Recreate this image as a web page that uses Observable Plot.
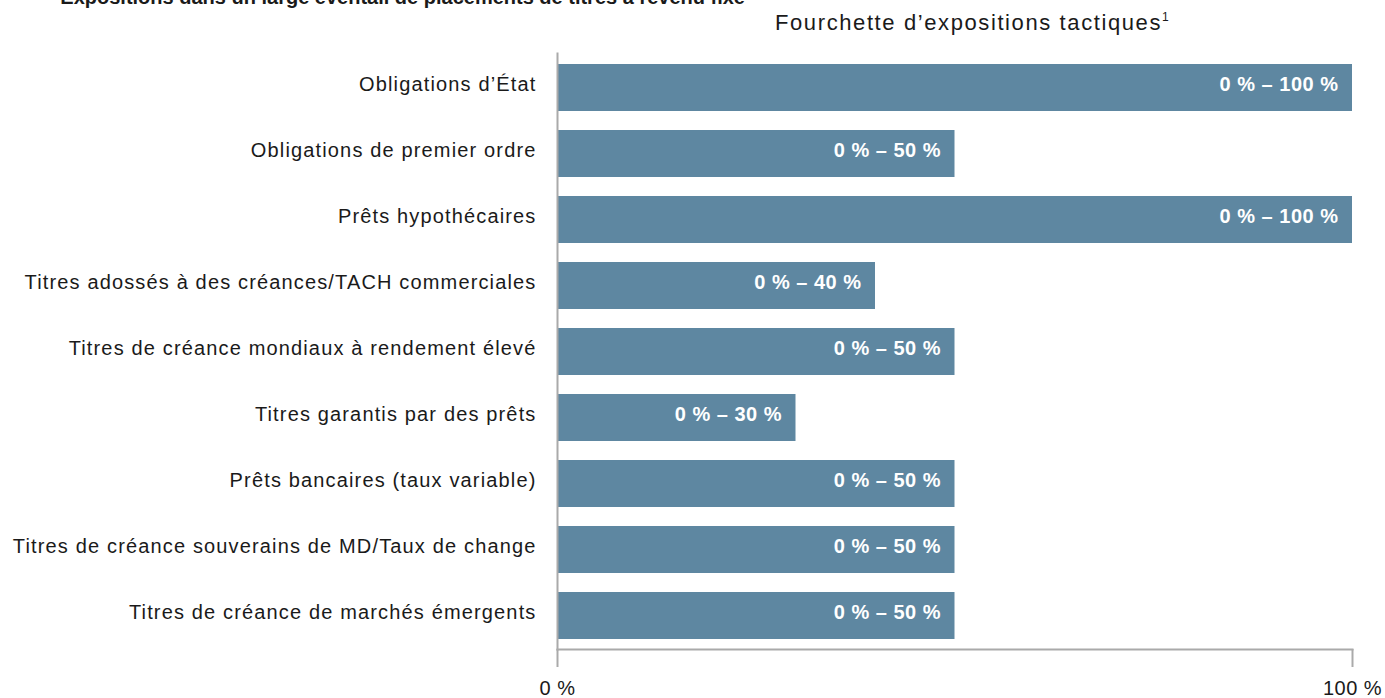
<!DOCTYPE html>
<html>
<head>
<meta charset="utf-8">
<script src="https://cdn.jsdelivr.net/npm/d3@7"></script>
<script src="https://cdn.jsdelivr.net/npm/@observablehq/plot@0.6"></script>
<style>
  html, body { margin: 0; padding: 0; background: #fff; overflow: hidden; }
  #wrap { position: relative; width: 1385px; height: 698px; font-family: "Liberation Sans", Arial, sans-serif; }
  #title { position: absolute; right: 640px; top: -14px; font-size: 20px; font-weight: bold; color: #1a1a1a; white-space: nowrap; }
  #sub { position: absolute; left: 775px; top: 4px; font-size: 22px; letter-spacing: 1.6px; color: #1a1a1a; white-space: nowrap; line-height: 26px; }
  #sub sup { font-size: 12px; vertical-align: 9px; letter-spacing: 0; }
  #chart { position: absolute; left: 0; top: 0; }
  #chart svg g[aria-label="y-axis tick label"] text { letter-spacing: 1.15px; }
  #chart svg g[aria-label="x-axis tick label"] text { letter-spacing: 0.5px; }
  #chart svg g[aria-label="text"] text { letter-spacing: 0.5px; }
</style>
</head>
<body>
<div id="wrap">
  <div id="title">Expositions dans un large éventail de placements de titres à revenu fixe</div>
  <div id="sub">Fourchette d’expositions tactiques<sup>1</sup></div>
  <div id="chart"></div>
</div>
<script>
const categories = [
  "Obligations d’État",
  "Obligations de premier ordre",
  "Prêts hypothécaires",
  "Titres adossés à des créances/TACH commerciales",
  "Titres de créance mondiaux à rendement élevé",
  "Titres garantis par des prêts",
  "Prêts bancaires (taux variable)",
  "Titres de créance souverains de MD/Taux de change",
  "Titres de créance de marchés émergents"
];
const minValues = [0, 0, 0, 0, 0, 0, 0, 0, 0];
const maxValues = [100, 50, 100, 40, 50, 30, 50, 50, 50];
const xTicks = [0, 100];

const data = categories.map((c, i) => ({
  cat: c,
  lo: minValues[i],
  hi: maxValues[i],
  label: `${minValues[i]} % – ${maxValues[i]} %`
}));

const chart = Plot.plot({
  width: 1385,
  height: 698,
  marginLeft: 557,
  marginRight: 33,
  marginTop: 53,
  marginBottom: 49,
  style: { fontFamily: "Liberation Sans, Arial, sans-serif", fontSize: "20px", color: "#1a1a1a", background: "transparent" },
  x: { domain: [0, 100] },
  y: { domain: categories, paddingInner: 0.29, paddingOuter: 0.136 },
  marks: [
    Plot.barX(data, { x1: "lo", x2: "hi", y: "cat", fill: "#5e87a1" }),
    Plot.text(data, { x: "hi", y: "cat", text: "label", textAnchor: "end", dx: -14, dy: -3, fill: "white", fontWeight: "bold", fontSize: 20 }),
    Plot.frame({ anchor: "bottom", stroke: "#aaa", strokeWidth: 2 }),
    Plot.frame({ anchor: "left", stroke: "#aaa", strokeWidth: 2 }),
    Plot.axisX({ ticks: xTicks, tickFormat: d => `${d} %`, tickSize: 18, tickPadding: 13, stroke: "#aaa", strokeWidth: 2, label: null, fontSize: 20, fill: "#1a1a1a" }),
    Plot.axisY({ tickSize: 0, tickPadding: 21, dy: -3, label: null, fontSize: 20, fill: "#1a1a1a" })
  ]
});
document.getElementById("chart").appendChild(chart);
</script>
</body>
</html>
